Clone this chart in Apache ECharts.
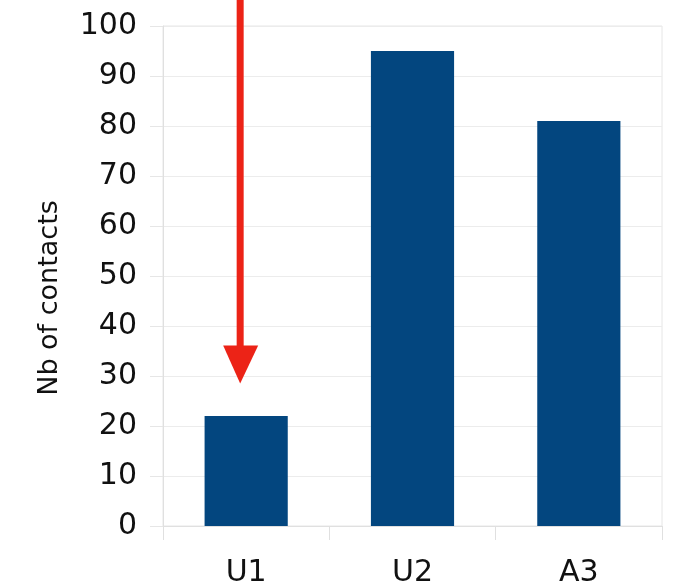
<!DOCTYPE html>
<html>
<head>
<meta charset="utf-8">
<script src="https://cdn.jsdelivr.net/npm/echarts@6/dist/echarts.min.js"></script>
<style>html,body{margin:0;padding:0;background:#fff}#c{width:673px;height:585px}</style>
</head>
<body>
<div id="c"></div>
<script>
var categories = ['U1', 'U2', 'A3'];
var contacts = [22, 95, 81];
var yTicks = [0, 100, 10]; // min, max, interval
var yTitle = 'Nb of contacts';
var arrowTip = ['U1', 28.5]; // where the red arrow points

var chart = echarts.init(document.getElementById('c'), null, {renderer: 'canvas'});
var FONT = '"DejaVu Sans", sans-serif';
var option = {
  animation: false,
  backgroundColor: '#ffffff',
  grid: {left: 163, right: 11, top: 26, bottom: 59, containLabel: false, outerBoundsMode: 'none',
         show: true, borderColor: '#e6e6e6', borderWidth: 1, backgroundColor: 'transparent'},
  xAxis: {
    type: 'category',
    data: categories,
    axisLine: {show: true, lineStyle: {color: '#e0e0e0', width: 1}},
    axisTick: {show: true, length: 14, lineStyle: {color: '#e0e0e0'}},
    axisLabel: {color: '#111111', fontSize: 30, fontFamily: FONT, margin: 32}
  },
  yAxis: {
    type: 'value',
    min: yTicks[0], max: yTicks[1], interval: yTicks[2],
    name: yTitle,
    nameLocation: 'middle',
    nameRotate: 90,
    nameGap: 100,
    nameTextStyle: {color: '#111111', fontSize: 27, fontFamily: FONT, padding: [0, 44, 0, 0]},
    axisLine: {show: true, lineStyle: {color: '#e0e0e0', width: 1}},
    axisTick: {show: true, length: 13, lineStyle: {color: '#e6e6e6'}},
    splitLine: {show: true, lineStyle: {color: '#ececec', width: 1}},
    axisLabel: {color: '#111111', fontSize: 30, fontFamily: FONT, margin: 26, padding: [4, 0, 0, 0]}
  },
  series: [{
    type: 'bar',
    data: contacts,
    barWidth: '50%',
    itemStyle: {color: '#03467f'}
  }]
};
chart.setOption(option);

var tip = chart.convertToPixel({seriesIndex: 0}, arrowTip);
var ax = tip[0] - 6, ay = tip[1];
chart.setOption({
  graphic: [
    {type: 'line', shape: {x1: ax, y1: 0, x2: ax, y2: ay - 30}, style: {stroke: '#ec2317', lineWidth: 7}, z: 100},
    {type: 'polygon', shape: {points: [[ax - 17, ay - 38], [ax + 18, ay - 38], [ax, ay]]}, style: {fill: '#ec2317'}, z: 100}
  ]
});
</script>
</body>
</html>
